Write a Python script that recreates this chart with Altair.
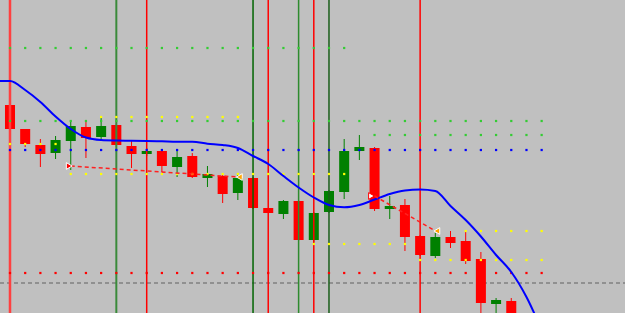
import altair as alt
import pandas as pd

# ---- candles (price units: points) ----
candle_idx = list(range(-1, 34))
opens  = [227, 208, 184, 168, 160, 172, 186, 176, 188, 167, 159, 162, 146, 157, 135, 137, 120,
          135, 105, 99, 112, 73, 101, 121, 162, 165, 104, 108, 77, 57, 76, 72, 54, 9, 12]
closes = [209, 184, 169, 159, 173, 187, 175, 187, 168, 159, 162, 147, 156, 136, 139, 119, 135,
          105, 100, 112, 73, 100, 122, 162, 166, 104, 107, 76, 58, 76, 70, 52, 10, 13, -10]
highs  = [229, 208, 184, 174, 177, 192, 191, 196, 190, 172, 165, 164, 163, 160, 147, 138, 140,
          136, 105, 113, 113, 101, 123, 174, 178, 166, 117, 114, 78, 80, 82, 81, 61, 15, 15]
lows   = [207, 184, 166, 146, 154, 143, 155, 174, 166, 145, 157, 141, 136, 135, 126, 110, 113,
          104, 100, 94, 72, 71, 100, 114, 153, 102, 94, 62, 57, 55, 65, 49, -5, -5, -15]

# ---- moving average ----
ma_idx = list(range(-1, 36))
ma_vals = [232, 232, 223, 211, 196.5, 184, 175.5, 173, 172.5, 172.3, 172, 171.7, 171.3, 171.3,
           169.3, 168, 165, 157, 149, 137, 125.5, 115.5, 108, 105.7, 108, 113.5, 119, 122.5,
           123.5, 122, 107, 93, 76.5, 58, 41, 16, -17]

# ---- vertical lines ----
vl_idx = [0, 7, 9, 16, 17, 19, 20, 21, 27]
vl_color = ["#FF4040", "#3A8A3A", "#FF0000", "#006400", "#FF0000", "#2E8B2E", "#FF0000", "#1A5E1A", "#FF0000"]
vl_width = [2.5, 2, 1.5, 1.5, 1.5, 1.5, 1.5, 1.5, 1.5]

# ---- dotted levels ----
lvl_price = [265, 196, 192, 178, 169, 163, 139, 82, 69, 53, 40]
lvl_color = ["#33CC33", "#FFFF00", "#33CC33", "#33CC33", "#FFFF00", "#0000FF",
             "#FFFF00", "#FFFF00", "#FFFF00", "#FFFF00", "#FF0000"]
lvl_start = [0, 6, 0, 24, 0, 0, 4, 30, 20, 27, 0]
lvl_end   = [22, 15, 35, 35, 3, 35, 22, 35, 26, 35, 35]

# ---- gray dashed level ----
gray_level = 30

# ---- trend segments ----
seg_id    = ["a", "a", "b", "b"]
seg_idx   = [4, 15, 24, 28]
seg_price = [147, 136, 117, 82]
start_idx = [3.9, 23.8]
start_price = [147, 117]
start_fill = ["#FF0000", "#FFFFFF"]
start_stroke = ["#FFFFFF", "#FF0000"]
end_idx = [15.1, 28.1]
end_price = [136, 82]

# ---------------------------------------------------------------
df = pd.DataFrame(dict(i=candle_idx, open=opens, close=closes, high=highs, low=lows))
df["color"] = ["#008000" if c > o else "#FF0000" for o, c in zip(opens, closes)]
df["x0"] = df["i"] - 0.33
df["x1"] = df["i"] + 0.33

ma = pd.DataFrame(dict(i=ma_idx, v=ma_vals))
vl = pd.DataFrame(dict(i=vl_idx, color=vl_color, w=vl_width))

dots = []
for p, c, s, e in zip(lvl_price, lvl_color, lvl_start, lvl_end):
    for k in range(s, e + 1):
        dots.append(dict(i=k, v=p, color=c))
dots = pd.DataFrame(dots)

seg = pd.DataFrame(dict(s=seg_id, i=seg_idx, v=seg_price))
st = pd.DataFrame(dict(i=start_idx, v=start_price, fill=start_fill, stroke=start_stroke))
en = pd.DataFrame(dict(i=end_idx, v=end_price))

X = alt.Scale(domain=[-0.658, 40.487], nice=False, zero=False)
Y = alt.Scale(domain=[0, 313], nice=False, zero=False)

wicks = alt.Chart(df).mark_rule(strokeWidth=1, clip=True).encode(
    x=alt.X("i:Q", scale=X, axis=None),
    y=alt.Y("low:Q", scale=Y, axis=None), y2="high:Q",
    color=alt.Color("color:N", scale=None))

bodies = alt.Chart(df).mark_rect(clip=True).encode(
    x=alt.X("x0:Q", scale=X, axis=None), x2="x1:Q",
    y=alt.Y("open:Q", scale=Y, axis=None), y2="close:Q",
    color=alt.Color("color:N", scale=None))

vlines = alt.Chart(vl).mark_rule(clip=True).encode(
    x=alt.X("i:Q", scale=X, axis=None),
    y=alt.value(0), y2=alt.value(313),
    color=alt.Color("color:N", scale=None),
    strokeWidth=alt.StrokeWidth("w:Q", scale=None))

gray = alt.Chart(pd.DataFrame(dict(v=[gray_level]))).mark_rule(
    color="#808080", strokeWidth=1.5, strokeDash=[4, 3]).encode(
    y=alt.Y("v:Q", scale=Y, axis=None), x=alt.value(0), x2=alt.value(625))

dotl = alt.Chart(dots).mark_square(size=5, opacity=1, clip=True).encode(
    x=alt.X("i:Q", scale=X, axis=None),
    y=alt.Y("v:Q", scale=Y, axis=None),
    color=alt.Color("color:N", scale=None))

maline = alt.Chart(ma).mark_line(color="#0000FF", strokeWidth=2, interpolate="monotone", clip=True).encode(
    x=alt.X("i:Q", scale=X, axis=None),
    y=alt.Y("v:Q", scale=Y, axis=None))

segs = alt.Chart(seg).mark_line(color="#FF2020", strokeWidth=1.5, strokeDash=[4, 3]).encode(
    x=alt.X("i:Q", scale=X, axis=None),
    y=alt.Y("v:Q", scale=Y, axis=None),
    detail="s:N")

starts = alt.Chart(st).mark_point(shape="triangle-right", size=45, filled=True, strokeWidth=1, opacity=1).encode(
    x=alt.X("i:Q", scale=X, axis=None),
    y=alt.Y("v:Q", scale=Y, axis=None),
    fill=alt.Fill("fill:N", scale=None),
    stroke=alt.Stroke("stroke:N", scale=None))

ends = alt.Chart(en).mark_point(shape="triangle-left", size=45, filled=True, fill="#FFA500",
                                stroke="#FFFFFF", strokeWidth=1, opacity=1).encode(
    x=alt.X("i:Q", scale=X, axis=None),
    y=alt.Y("v:Q", scale=Y, axis=None))

chart = alt.layer(gray, wicks, bodies, vlines, dotl, maline, segs, starts, ends).properties(
    width=625, height=313, padding=0,
    autosize=alt.AutoSizeParams(type="none"),
    background="#C0C0C0"
).configure_view(stroke=None)

chart.save("out.html", embed_options={"renderer": "svg", "actions": False})
